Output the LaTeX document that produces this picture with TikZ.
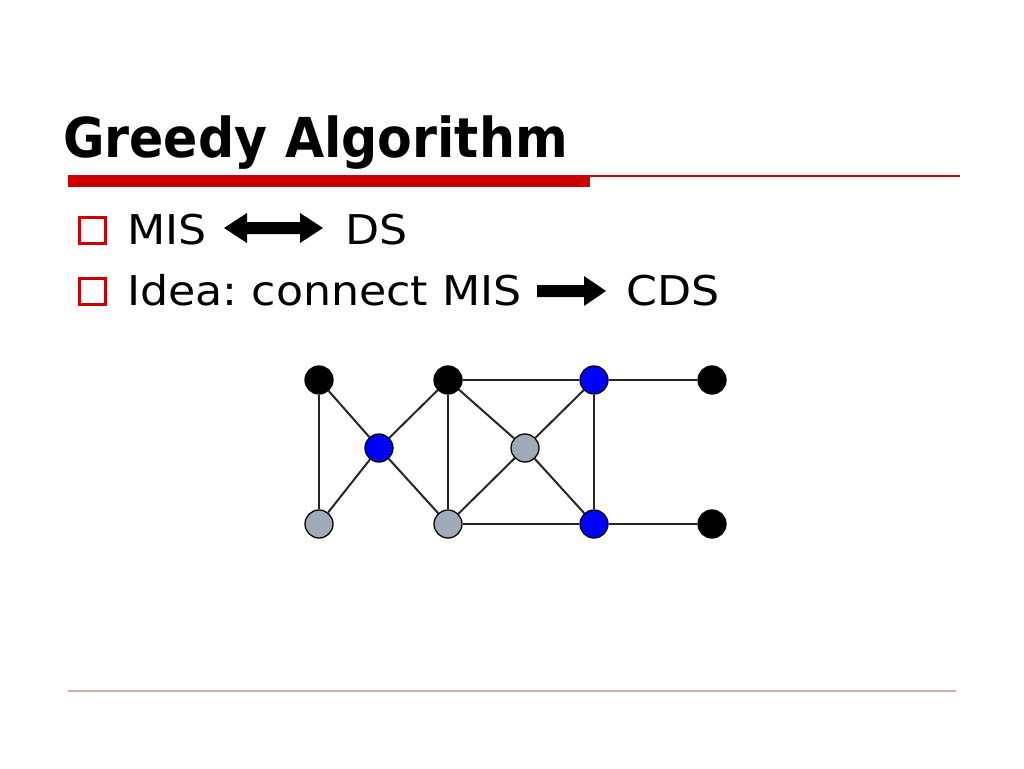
\documentclass[tikz,border=0pt]{standalone}
\usepackage{fontspec}
\setmainfont{DejaVu Sans}
\frenchspacing
\usetikzlibrary{calc}
\definecolor{slidered}{RGB}{204,0,0}
\definecolor{nodegray}{RGB}{160,170,185}
\definecolor{nodeblue}{RGB}{0,0,255}
\definecolor{footline}{RGB}{215,170,170}
\tikzset{
  vtx/.style={circle,draw=black,line width=1.3pt,minimum size=28pt,inner sep=0pt},
  blk/.style={vtx,fill=black},
  blu/.style={vtx,fill=nodeblue},
  gry/.style={vtx,fill=nodegray},
  edge/.style={line width=2pt,draw=black!85},
  bullet/.style={draw=slidered,line width=3pt,fill=none},
  body/.style={anchor=base west,inner sep=0pt,font=\fontsize{41}{48}\selectfont},
}
\newcommand{\wide}[1]{\scalebox{1.08}[1]{#1}}
\begin{document}
\begin{tikzpicture}[x=1pt,y=-1pt]
\useasboundingbox (0,0) rectangle (1024,768);
% title
\node[anchor=base west,inner sep=0pt,font=\fontsize{55}{60}\selectfont\bfseries] (title) at (63,157) {\scalebox{0.92}[1]{Greedy Algorithm}};
% rules
\fill[slidered] (68,175) rectangle (590,187);
\fill[slidered] (590,175) rectangle (960,177);
\draw[footline,line width=1.2pt] (68,691) -- (956,691);
% bullets
\draw[bullet] (79.5,217.5) rectangle (105,243);
\draw[bullet] (79.5,278.5) rectangle (105,304);
% line 1
\node[body] (mis1) at (127,244) {\wide{MIS}};
\fill[black] (224,228) -- (247,213) -- (247,222) -- (300,222) -- (300,213) -- (323,228) -- (300,243) -- (300,234) -- (247,234) -- (247,243) -- cycle;
\node[body] (ds) at (345,244) {\wide{DS}};
% line 2
\node[body] (idea) at (127,305) {\wide{Idea: connect MIS}};
\fill[black] (537,285) -- (584,285) -- (584,276) -- (606,291) -- (584,306) -- (584,297) -- (537,297) -- cycle;
\node[body] (cds) at (626,305) {\wide{CDS}};
% graph
\node[blk] (a1) at (319,380) {};
\node[blk] (a2) at (448,380) {};
\node[blu] (a3) at (594,380) {};
\node[blk] (a4) at (712,380) {};
\node[blu] (m1) at (379,448) {};
\node[gry] (m2) at (525,448) {};
\node[gry] (b1) at (319,524) {};
\node[gry] (b2) at (448,524) {};
\node[blu] (b3) at (594,524) {};
\node[blk] (b4) at (712,524) {};
\draw[edge] (a1) -- (b1);
\draw[edge] (a1) -- (m1);
\draw[edge] (m1) -- (b1);
\draw[edge] (m1) -- (a2);
\draw[edge] (m1) -- (b2);
\draw[edge] (a2) -- (b2);
\draw[edge] (a2) -- (a3);
\draw[edge] (a2) -- (m2);
\draw[edge] (m2) -- (a3);
\draw[edge] (m2) -- (b2);
\draw[edge] (m2) -- (b3);
\draw[edge] (a3) -- (b3);
\draw[edge] (b2) -- (b3);
\draw[edge] (a3) -- (a4);
\draw[edge] (b3) -- (b4);
\end{tikzpicture}
\end{document}
